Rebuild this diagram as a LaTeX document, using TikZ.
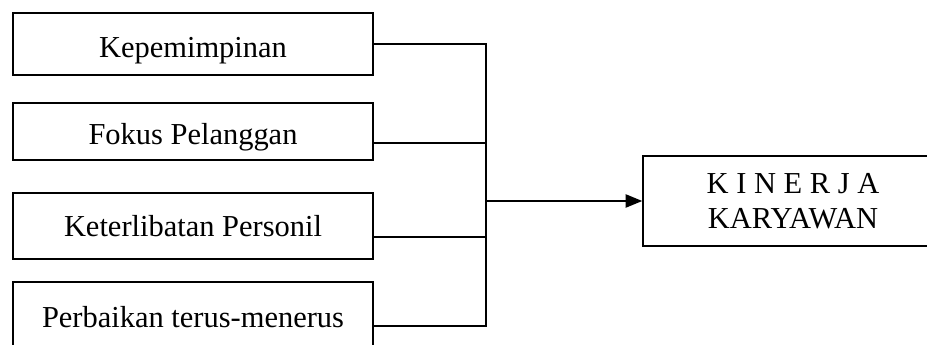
\documentclass[tikz,border=0pt]{standalone}
\usepackage{fontspec}
\setmainfont{Liberation Serif}
\usetikzlibrary{arrows.meta}
\tikzset{
  faktor/.style={draw, line width=1.3pt, minimum width=10.8cm, align=center,
    inner sep=0pt, font=\fontsize{26}{30}\selectfont},
  turun/.style={text height=29pt, text depth=6pt},
  hubung/.style={line width=1.3pt},
}
\begin{document}
\begin{tikzpicture}[x=0.03cm, y=-0.03cm, >={Triangle[length=0.5cm,width=0.4cm]}]
    \useasboundingbox (0,0) rectangle (927,345);
    % Faktor-faktor
    \node[faktor, turun, minimum height=1.86cm] (kep) at (193,44) {Kepemimpinan};
    \node[faktor, turun, minimum height=1.71cm] (fok) at (193,131.5) {Fokus Pelanggan};
    \node[faktor, minimum height=1.98cm] (ket) at (193,226) {Keterlibatan Personil};
    \node[faktor, minimum height=2.1cm] (per) at (193,317) {Perbaikan terus-menerus};
    
    % Kinerja
    \node[faktor, minimum width=9cm, minimum height=2.7cm] (kin) at (793,201) {K I N E R J A\\KARYAWAN};
    
    % Titik sambungan
    \coordinate (j1) at (486,44);
    \coordinate (j2) at (486,143);
    \coordinate (j3) at (486,237);
    \coordinate (j4) at (486,326);
    \coordinate (jm) at (486,201);
    
    % Garis
    \draw[hubung] (kep.east |- j1) -- (j1) -- (j4) -- (per.east |- j4);
    \draw[hubung] (fok.east |- j2) -- (j2);
    \draw[hubung] (ket.east |- j3) -- (j3);
    \draw[hubung, ->] (jm) -- (kin.west);
\end{tikzpicture}
\end{document}
